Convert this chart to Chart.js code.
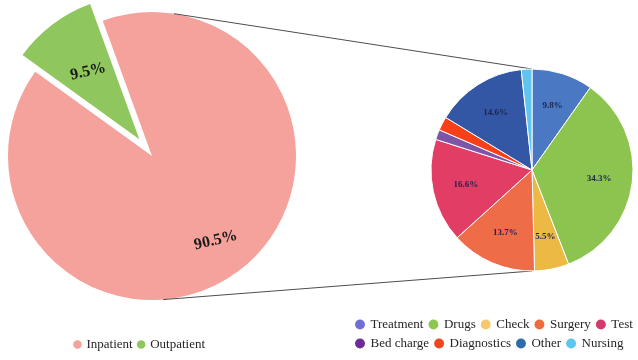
<!DOCTYPE html>
<html>
<head>
<meta charset="utf-8">
<title>Patient cost structure</title>
<script src="https://cdn.jsdelivr.net/npm/chart.js@4.4.1/dist/chart.umd.min.js"></script>
<style>
    html, body { margin: 0; padding: 0; background: #fff; }
    #wrap { position: relative; width: 638px; height: 360px; overflow: hidden; }
    #patientChart { position: absolute; left: 0; top: -20px; }
    #costChart { position: absolute; left: 320px; top: 28px; }
</style>
</head>
<body>
<div id="wrap">
    <canvas id="patientChart" width="638" height="381"></canvas>
    <canvas id="costChart" width="387" height="332"></canvas>
</div>
<script>
// ===== DATA =====
const patientLabels = ['Inpatient', 'Outpatient'];
const patientShares = [90.5, 9.5];

const costLabels = ['Treatment', 'Drugs', 'Check', 'Surgery', 'Test', 'Bed charge', 'Diagnostics', 'Other', 'Nursing'];
const costShares = [9.8, 34.3, 5.5, 13.7, 16.6, 1.6, 2.2, 14.6, 1.7];

// ===== STYLE =====
const serif = "'Liberation Serif', 'Times New Roman', serif";
const patientColors = ['#F4A29B', '#8FC65E'];
const patientExplode = [0, 21];
const costColors = ['#4B78C3', '#8CC44F', '#ECB944', '#EE6C47', '#E23D64', '#7D55A8', '#F83F17', '#3356A5', '#5EC5EE'];
const costLegendColors = ['#6F6FD6', '#8CC84F', '#F8C96B', '#F06B3C', '#D43A6C', '#6A2D9A', '#F0461E', '#2E6BAC', '#5BC7EE'];

Chart.defaults.font.family = serif;
Chart.defaults.color = '#262626';

// pull slices out of the pie without growing them
const explodeSlices = {
    id: 'explodeSlices',
    afterDatasetsUpdate(chart, args, opts) {
        chart.getDatasetMeta(0).data.forEach((arc, i) => {
            const dist = opts.amounts[i] || 0;
            const mid = (arc.startAngle + arc.endAngle) / 2;
            arc.x += Math.cos(mid) * dist;
            arc.y += Math.sin(mid) * dist;
            arc.$explode = dist;
        });
    }
};

// percentage text inside the slices
const sliceLabels = {
    id: 'sliceLabels',
    afterDatasetsDraw(chart, args, opts) {
        const ctx = chart.ctx;
        const values = chart.data.datasets[0].data;
        ctx.save();
        ctx.font = opts.font;
        ctx.fillStyle = opts.color;
        ctx.textAlign = 'center';
        ctx.textBaseline = 'middle';
        chart.getDatasetMeta(0).data.forEach((arc, i) => {
            if (values[i] < opts.minValue) return;
            const mid = (arc.startAngle + arc.endAngle) / 2;
            const r = arc.outerRadius * opts.position - (arc.$explode || 0);
            ctx.save();
            ctx.translate(arc.x + Math.cos(mid) * r, arc.y + Math.sin(mid) * r);
            ctx.rotate(opts.rotation * Math.PI / 180);
            ctx.fillText(values[i].toFixed(1) + '%', 0, 0);
            ctx.restore();
        });
        ctx.restore();
    }
};

// move a legend sideways after layout
const legendShift = {
    id: 'legendShift',
    afterLayout(chart, args, opts) {
        if (!opts.dx) return;
        chart.legend.left += opts.dx;
        chart.legend.right += opts.dx;
    }
};

let costChart = null;

// lines from the small pie's top/bottom, tangent to the big pie
const connectors = {
    id: 'connectors',
    afterDraw(chart) {
        if (!costChart) return;
        const big = chart.getDatasetMeta(0).data[0];
        const small = costChart.getDatasetMeta(0).data[0];
        const dx = costChart.canvas.offsetLeft - chart.canvas.offsetLeft;
        const dy = costChart.canvas.offsetTop - chart.canvas.offsetTop;
        const ctx = chart.ctx;
        ctx.save();
        ctx.strokeStyle = '#4d4d4d';
        ctx.lineWidth = 1;
        [-1, 1].forEach(side => {
            const px = small.x + dx;
            const py = small.y + dy + side * small.outerRadius;
            const vx = px - big.x, vy = py - big.y;
            const d = Math.hypot(vx, vy);
            const a = Math.atan2(vy, vx) + side * Math.acos(big.outerRadius / d);
            ctx.beginPath();
            ctx.moveTo(big.x + Math.cos(a) * big.outerRadius, big.y + Math.sin(a) * big.outerRadius);
            ctx.lineTo(px, py);
            ctx.stroke();
        });
        ctx.restore();
    }
};

// ===== COST BREAKDOWN (small pie) =====
costChart = new Chart(document.getElementById('costChart'), {
    type: 'pie',
    data: {
        labels: costLabels,
        datasets: [{
            data: costShares,
            backgroundColor: costColors,
            borderColor: '#ffffff',
            borderWidth: 1
        }]
    },
    options: {
        responsive: false,
        animation: false,
        events: [],
        radius: 101,
        rotation: 0,
        layout: { padding: { left: 37 } },
        plugins: {
            tooltip: { enabled: false },
            legend: {
                position: 'bottom',
                align: 'start',
                labels: {
                    usePointStyle: true,
                    pointStyle: 'circle',
                    boxWidth: 8,
                    boxHeight: 7,
                    padding: 6,
                    font: { size: 13 },
                    generateLabels(chart) {
                        const items = Chart.overrides.pie.plugins.legend.labels.generateLabels(chart);
                        items.forEach((item, i) => {
                            item.fillStyle = costLegendColors[i];
                            item.lineWidth = 0;
                        });
                        return items;
                    }
                }
            },
            legendShift: { dx: -7 },
            sliceLabels: { font: 'bold 9px ' + serif, color: '#1d2650', position: 0.67, rotation: 0, minValue: 5 }
        }
    },
    plugins: [sliceLabels, legendShift]
});

// ===== INPATIENT / OUTPATIENT (big pie) =====
const patientChart = new Chart(document.getElementById('patientChart'), {
    type: 'pie',
    data: {
        labels: patientLabels,
        datasets: [{
            data: patientShares,
            backgroundColor: patientColors,
            borderWidth: 0
        }]
    },
    options: {
        responsive: false,
        animation: false,
        events: [],
        radius: 144,
        rotation: -20,
        layout: { padding: { right: 334 } },
        plugins: {
            tooltip: { enabled: false },
            legend: {
                position: 'bottom',
                labels: {
                    usePointStyle: true,
                    pointStyle: 'circle',
                    boxWidth: 5,
                    boxHeight: 6,
                    padding: 6,
                    font: { size: 13 }
                }
            },
            legendShift: { dx: -12 },
            explodeSlices: { amounts: patientExplode },
            sliceLabels: { font: 'bold 16px ' + serif, color: '#1a1a1a', position: 0.735, rotation: -13, minValue: 0 }
        }
    },
    plugins: [explodeSlices, sliceLabels, legendShift, connectors]
});
</script>
</body>
</html>
